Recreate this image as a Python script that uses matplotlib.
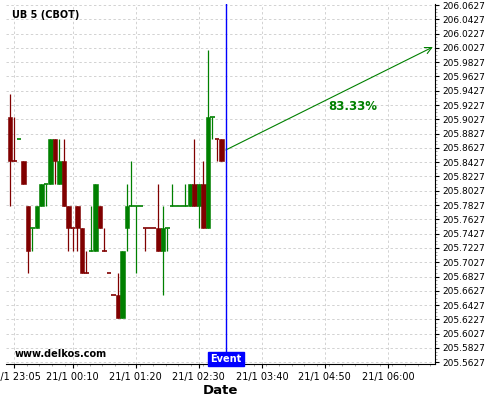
import matplotlib
matplotlib.use("Agg")
import matplotlib.pyplot as plt
from matplotlib.ticker import FixedLocator, FuncFormatter
import numpy as np

# 5-minute candles, prices in 32nds above 205
times = ["23:00", "23:05", "23:10", "23:15", "23:20", "23:25", "23:30", "23:35",
         "23:40", "23:45", "23:50", "23:55", "00:00", "00:05", "00:10", "00:15",
         "00:20", "00:25", "00:30", "00:35", "00:40", "00:45", "00:50", "00:55",
         "01:00", "01:05", "01:10", "01:15", "01:20", "01:25", "01:30", "01:35",
         "01:40", "01:45", "01:50", "01:55", "02:00", "02:05", "02:10", "02:15",
         "02:20", "02:25", "02:30", "02:35", "02:40", "02:45", "02:50", "02:55"]
open_32 = [29, 27, 28, 27, 25, 24, 24, 25, 26, 26, 28, 26, 27, 25, 24, 25,
           24, 22, 23, 23, 25, 23, 22, 21, 21, 20, 24, 25, 25, 25, 24, 24,
           24, 24, 23, 24, 25, 25, 25, 25, 25, 26, 25, 26, 24, 29, 28, 28]
high_32 = [30, 29, 28, 27, 25, 24, 25, 26, 26, 28, 28, 28, 28, 25, 24, 25,
           24, 23, 25, 26, 25, 24, 22, 21, 22, 23, 26, 27, 25, 25, 24, 24,
           24, 26, 25, 24, 26, 25, 25, 26, 26, 28, 26, 27, 32, 29, 28, 28]
low_32 = [25, 27, 28, 26, 22, 23, 24, 25, 25, 26, 26, 26, 25, 23, 23, 23,
          22, 22, 23, 23, 24, 23, 22, 21, 20, 20, 23, 25, 22, 25, 23, 24,
          24, 23, 21, 23, 25, 25, 25, 25, 25, 25, 24, 24, 24, 28, 27, 27]
close_32 = [27, 27, 28, 26, 23, 24, 25, 26, 26, 28, 27, 27, 25, 24, 24, 24,
            22, 22, 23, 26, 24, 23, 22, 21, 20, 23, 25, 25, 25, 25, 24, 24,
            24, 23, 24, 24, 25, 25, 25, 25, 26, 25, 26, 24, 29, 29, 28, 27]
up = [0, 0, 1, 0, 0, 1, 1, 1, 1, 1, 0, 1, 0, 0, 0, 0,
      0, 0, 1, 1, 0, 0, 0, 0, 0, 1, 1, 1, 1, 1, 0, 0,
      0, 0, 1, 1, 1, 1, 1, 1, 1, 0, 1, 0, 1, 1, 0, 0]

event_time = "03:00"
arrow_start = ("03:00", 205.8598)
arrow_end = ("06:50", 206.0039)
pct_label = "83.33%"
pct_pos = ("05:21", 205.9200)

xtick_times = ["23:05", "00:10", "01:20", "02:30", "03:40", "04:50", "06:00"]
ytick_vals = [205.5627 + 0.02 * i for i in range(26)]


def to_min(s):
    # minutes since 23:00
    h, m = map(int, s.split(":"))
    return ((h - 23) % 24) * 60 + m


t = np.array([to_min(s) for s in times])
o = 205 + np.array(open_32) / 32
h = 205 + np.array(high_32) / 32
l = 205 + np.array(low_32) / 32
c = 205 + np.array(close_32) / 32

RED = "#800000"
GREEN = "#008000"

fig = plt.figure(figsize=(5, 4), dpi=100)
ax = fig.add_axes([0.012, 0.09, 0.858, 0.90])

w = 5.0
for i in range(len(t)):
    col = GREEN if up[i] else RED
    ax.vlines(t[i], l[i], h[i], color=col, lw=0.9, zorder=3)
    if o[i] != c[i]:
        ax.bar(t[i], abs(c[i] - o[i]), bottom=min(o[i], c[i]), width=w,
               color=col, edgecolor=col, lw=0.4, zorder=4)
    else:
        ax.hlines(o[i], t[i] - w / 2, t[i] + w / 2, color=col, lw=1.2, zorder=4)

ev = to_min(event_time)
ax.axvline(ev, color="blue", lw=1, zorder=5)
ax.text(ev, 0.0, "Event", transform=ax.get_xaxis_transform(), ha="center",
        va="bottom", color="white", fontsize=7, fontweight="bold", zorder=6,
        bbox=dict(boxstyle="square,pad=0.25", fc="blue", ec="blue"))

ax.annotate("", xy=(to_min(arrow_end[0]), arrow_end[1]),
            xytext=(to_min(arrow_start[0]), arrow_start[1]),
            arrowprops=dict(arrowstyle="->", color=GREEN, lw=0.8,
                            shrinkA=0, shrinkB=0, mutation_scale=12))
ax.text(to_min(pct_pos[0]), pct_pos[1], pct_label, color=GREEN, fontsize=8.5,
        fontweight="bold", ha="center", va="center")

ax.text(0.014, 0.97, "UB 5 (CBOT)", transform=ax.transAxes, fontsize=7,
        fontweight="bold", va="center", ha="left")
ax.text(0.021, 0.028, "www.delkos.com", transform=ax.transAxes, fontsize=7,
        fontweight="bold", va="center", ha="left")

ax.set_xlim(-4.2, 472.4)
ax.set_ylim(205.5603, 206.0641)

xt = [to_min(s) for s in xtick_times]
ax.xaxis.set_major_locator(FixedLocator(xt))
ax.xaxis.set_major_formatter(FuncFormatter(lambda v, p: "21/1 %02d:%02d" % (((int(round(v)) // 60) + 23) % 24, int(round(v)) % 60)))
ax.xaxis.set_minor_locator(FixedLocator(np.arange(xt[0] - 14, 473, 14)))
ax.yaxis.tick_right()
ax.yaxis.set_major_locator(FixedLocator(ytick_vals))
ax.yaxis.set_major_formatter(FuncFormatter(lambda v, p: "%.4f" % v))
ax.yaxis.set_minor_locator(FixedLocator(np.arange(205.5627, 206.07, 0.005)))
ax.tick_params(axis="x", labelsize=7, length=3, pad=3)
ax.tick_params(axis="y", labelsize=6.5, length=3, pad=2.5)
ax.tick_params(which="minor", length=1.5, color="#999999")

ax.spines["top"].set_visible(False)
ax.spines["left"].set_visible(False)
ax.grid(True, which="major", color="#d2d2d2", ls=(0, (2.5, 2.5)), lw=0.7)
ax.set_axisbelow(True)
ax.set_xlabel("Date", fontsize=9.5, fontweight="bold", labelpad=1)

fig.savefig("out.png", dpi=100)
